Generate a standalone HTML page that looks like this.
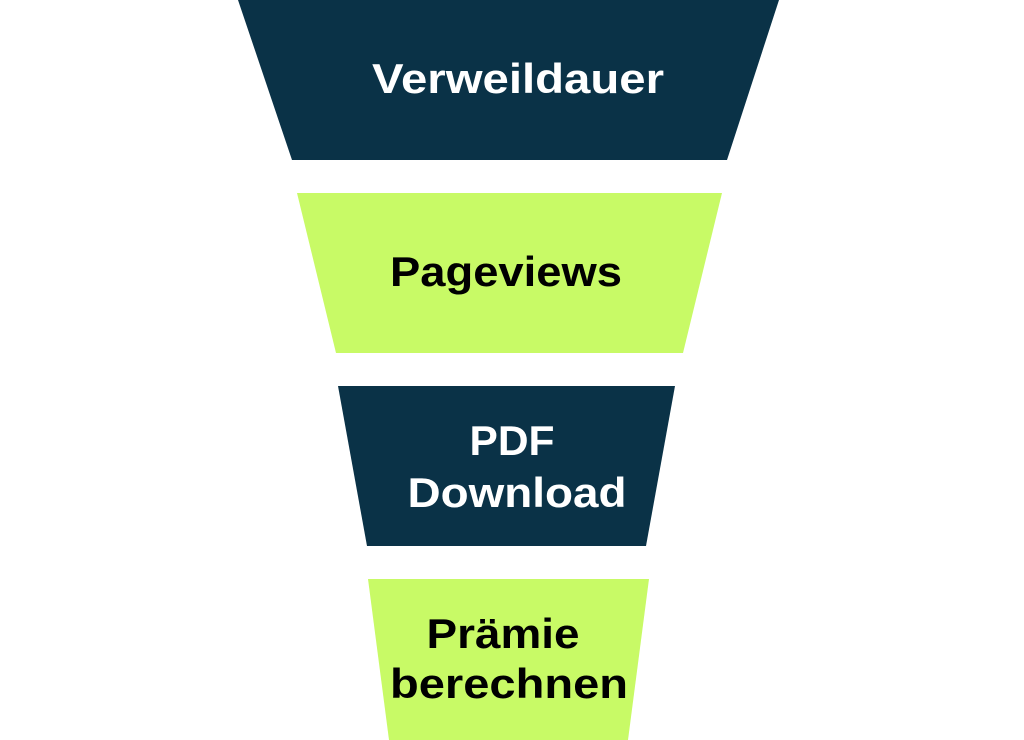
<!DOCTYPE html>
<html><head><meta charset="utf-8"><style>
html,body{margin:0;padding:0;background:#fff;width:1024px;height:740px;overflow:hidden}
text{font-family:"Liberation Sans",sans-serif;font-weight:bold;font-size:42px;text-anchor:middle}
</style></head><body>
<svg width="1024" height="740" viewBox="0 0 1024 740" xmlns="http://www.w3.org/2000/svg">
<polygon points="238,0 779,0 727,160 292,160" fill="#0a3247"/>
<polygon points="297,193 722,193 683,353 336,353" fill="#c8fa66"/>
<polygon points="338,386 675,386 646,546 367,546" fill="#0a3247"/>
<polygon points="368,579 649,579 628,740 389,740" fill="#c8fa66"/>
<text x="518" y="93" fill="#fff" textLength="292" lengthAdjust="spacingAndGlyphs">Verweildauer</text>
<text x="506" y="286" fill="#000" textLength="232" lengthAdjust="spacingAndGlyphs">Pageviews</text>
<text x="512" y="455" fill="#fff" textLength="85" lengthAdjust="spacingAndGlyphs">PDF</text>
<text x="517" y="507" fill="#fff" textLength="219" lengthAdjust="spacingAndGlyphs">Download</text>
<text x="503" y="648" fill="#000" textLength="153" lengthAdjust="spacingAndGlyphs">Prämie</text>
<text x="509" y="698" fill="#000" textLength="238" lengthAdjust="spacingAndGlyphs">berechnen</text>
</svg>
</body></html>
